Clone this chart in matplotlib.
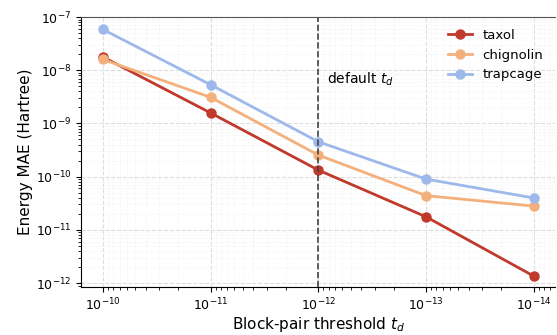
import matplotlib
matplotlib.use("Agg")
import matplotlib.pyplot as plt

# block-pair thresholds and energy MAE per system
thresholds = [1e-10, 1e-11, 1e-12, 1e-13, 1e-14]
taxol = [1.78e-8, 1.58e-9, 1.33e-10, 1.76e-11, 1.35e-12]
chignolin = [1.6e-8, 3.1e-9, 2.55e-10, 4.4e-11, 2.8e-11]
trapcage = [5.86e-8, 5.35e-9, 4.53e-10, 9.0e-11, 3.98e-11]
default_td = 1e-12

colors = {"taxol": "#c0392b", "chignolin": "#f4b07c", "trapcage": "#9db8ea"}

fig, ax = plt.subplots(figsize=(5.57, 3.35), dpi=100)
fig.subplots_adjust(left=0.146, right=0.997, top=0.949, bottom=0.143)

for name, vals in [("taxol", taxol), ("chignolin", chignolin), ("trapcage", trapcage)]:
    ax.plot(thresholds, vals, marker="o", markersize=6.5, linewidth=2,
            color=colors[name], label=name)

ax.axvline(default_td, color="#444444", linestyle="--", linewidth=1.2)
ax.text(8.3e-13, 1.0e-8, "default $t_d$", fontsize=10, ha="left", va="top")

ax.set_xscale("log")
ax.set_yscale("log")
ax.invert_xaxis()
ax.set_ylim(8.4e-13, 1e-7)

ax.grid(True, which="major", linestyle="--", color="#dddddd", linewidth=0.8)
ax.grid(True, which="minor", linestyle=":", color="#eeeeee", linewidth=0.6)

ax.set_xlabel("Block-pair threshold $t_d$", fontsize=11, labelpad=1)
ax.set_ylabel("Energy MAE (Hartree)", fontsize=11, labelpad=2)
ax.tick_params(labelsize=9)
ax.spines["top"].set_color("#555555")
ax.spines["right"].set_visible(False)

ax.legend(loc="upper right", frameon=False, fontsize=9.5, handlelength=1.8)

fig.savefig("out.png", dpi=100)
